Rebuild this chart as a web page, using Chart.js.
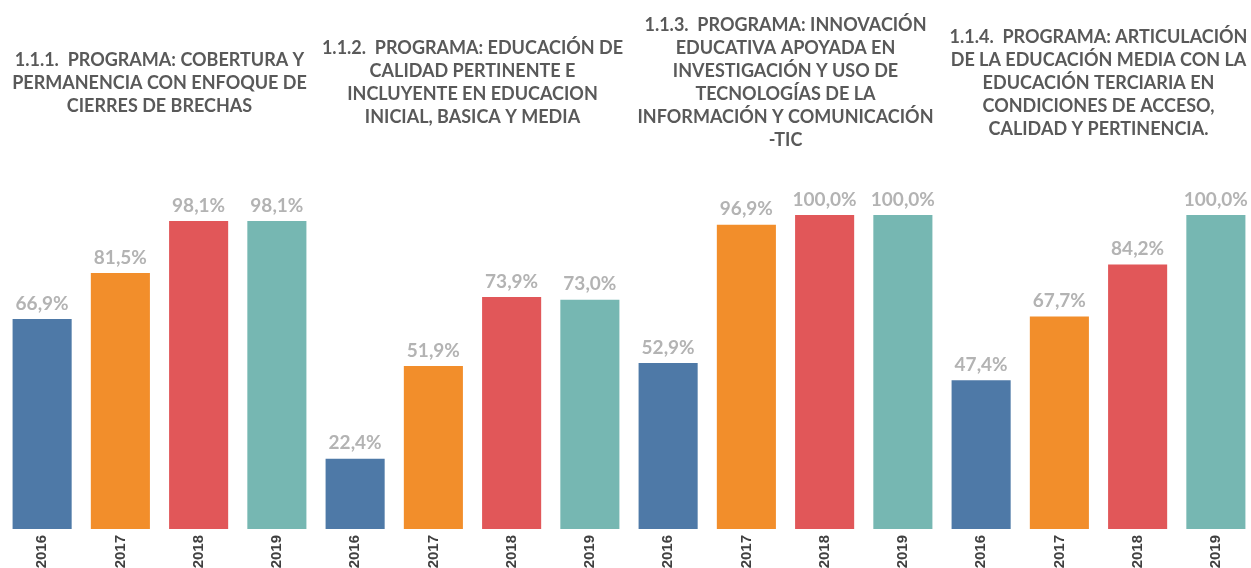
<!DOCTYPE html>
<html>
<head>
    <title>Programas educativos 2016-2019</title>
    <script src="https://cdn.jsdelivr.net/npm/chart.js"></script>
    <style>
        body { margin: 0; overflow: hidden; background: #fff; }
    </style>
</head>
<body>
    <canvas id="programas-chart" width="1258" height="568"></canvas>

    <script>
        const years = ['2016', '2017', '2018', '2019'];
        const programa1 = [66.9, 81.5, 98.1, 98.1];
        const programa2 = [22.4, 51.9, 73.9, 73.0];
        const programa3 = [52.9, 96.9, 100.0, 100.0];
        const programa4 = [47.4, 67.7, 84.2, 100.0];
        const yearColors = ['#4E79A7', '#F28E2B', '#E15759', '#76B7B2'];

        const titles = [
            ['1.1.1.  PROGRAMA: COBERTURA Y', 'PERMANENCIA CON ENFOQUE DE', 'CIERRES DE BRECHAS'],
            ['1.1.2.  PROGRAMA: EDUCACIÓN DE', 'CALIDAD PERTINENTE E', 'INCLUYENTE EN EDUCACION', 'INICIAL, BASICA Y MEDIA'],
            ['1.1.3.  PROGRAMA: INNOVACIÓN', 'EDUCATIVA APOYADA EN', 'INVESTIGACIÓN Y USO DE', 'TECNOLOGÍAS DE LA', 'INFORMACIÓN Y COMUNICACIÓN', '-TIC'],
            ['1.1.4.  PROGRAMA: ARTICULACIÓN', 'DE LA EDUCACIÓN MEDIA CON LA', 'EDUCACIÓN TERCIARIA EN', 'CONDICIONES DE ACCESO,', 'CALIDAD Y PERTINENCIA.']
        ];

        const groups = [programa1, programa2, programa3, programa4];
        const labels = groups.flatMap(() => years);
        const values = groups.flat();
        const colors = groups.flatMap(() => yearColors);

        // value labels above bars + group titles
        const annotate = {
            id: 'annotate',
            afterDatasetsDraw(chart) {
                const ctx = chart.ctx;
                const meta = chart.getDatasetMeta(0);
                ctx.save();
                ctx.textAlign = 'center';
                ctx.textBaseline = 'bottom';
                ctx.fillStyle = '#B3B3B3';
                ctx.font = 'bold 19px Lato';
                meta.data.forEach((bar, i) => {
                    const txt = values[i].toFixed(1).replace('.', ',') + '%';
                    ctx.fillText(txt, bar.x, bar.y - 6);
                });

                const x = chart.scales.x;
                ctx.fillStyle = '#595959';
                ctx.font = 'bold 18px Lato';
                ctx.textBaseline = 'middle';
                const lineH = 23;
                titles.forEach((lines, g) => {
                    const cx = (x.getPixelForValue(g * 4) + x.getPixelForValue(g * 4 + 3)) / 2;
                    const top = 83 - (lines.length - 1) * lineH / 2;
                    lines.forEach((line, j) => ctx.fillText(line, cx, top + j * lineH));
                });
                ctx.restore();
            }
        };

        new Chart(document.getElementById('programas-chart'), {
            type: 'bar',
            data: {
                labels: labels,
                datasets: [{
                    data: values,
                    backgroundColor: colors,
                    borderWidth: 0,
                    categoryPercentage: 1,
                    barPercentage: 0.755
                }]
            },
            options: {
                responsive: false,
                animation: false,
                layout: { padding: { top: 215, left: 3, right: 3, bottom: 0 } },
                plugins: {
                    legend: { display: false },
                    tooltip: { enabled: false }
                },
                scales: {
                    x: {
                        afterFit(scale) { scale.height = 39; },
                        grid: { display: false, drawTicks: false },
                        border: { display: false },
                        ticks: {
                            autoSkip: false,
                            minRotation: 90,
                            maxRotation: 90,
                            padding: 6,
                            color: '#404040',
                            font: { family: 'Liberation Sans', weight: 'bold', size: 15 }
                        }
                    },
                    y: {
                        display: false,
                        min: 0,
                        max: 100
                    }
                }
            },
            plugins: [annotate]
        });
    </script>
</body>
</html>
